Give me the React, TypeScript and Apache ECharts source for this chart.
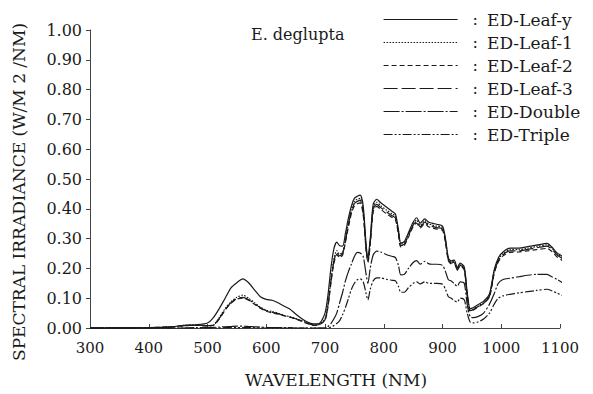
import React, { useEffect, useRef } from "react";
import * as echarts from "echarts";

const wavelengths = [
  300, 400, 440, 460, 480, 500, 510, 520, 530, 540,
  550, 560, 570, 580, 590, 600, 610, 620, 630, 640,
  650, 660, 670, 680, 690, 700, 705, 710, 715, 720,
  725, 730, 735, 740, 745, 750, 755, 760, 765, 770,
  773, 777, 782, 788, 795, 805, 815, 820, 825, 829,
  835, 842, 850, 856, 862, 870, 876, 882, 890, 900,
  905, 910, 915, 920, 925, 930, 937, 942, 947, 952,
  960, 970, 980, 988, 995, 1003, 1015, 1030, 1045, 1060,
  1078, 1086, 1095, 1105, 1117,
];

const leafY = [
  0, 0.001, 0.004, 0.009, 0.011, 0.017, 0.035, 0.065, 0.1, 0.135,
  0.152, 0.165, 0.152, 0.128, 0.105, 0.096, 0.093, 0.085, 0.074, 0.064,
  0.047, 0.032, 0.02, 0.014, 0.015, 0.05, 0.11, 0.2, 0.265, 0.288,
  0.276, 0.275, 0.32, 0.37, 0.41, 0.435, 0.442, 0.446, 0.41, 0.28,
  0.235, 0.3, 0.415, 0.432, 0.42, 0.405, 0.39, 0.382, 0.33, 0.285,
  0.29, 0.32, 0.355, 0.37, 0.352, 0.366, 0.356, 0.352, 0.348, 0.342,
  0.3, 0.235, 0.225, 0.228, 0.202, 0.218, 0.205, 0.12, 0.065, 0.068,
  0.078, 0.09, 0.115, 0.195, 0.235, 0.255, 0.268, 0.268, 0.273, 0.278,
  0.284, 0.272, 0.252, 0.238, 0.197,
];

const leaf1 = [
  0, 0.001, 0.004, 0.009, 0.01, 0.008, 0.01, 0.035, 0.065, 0.088,
  0.103, 0.11, 0.1, 0.085, 0.07, 0.06, 0.055, 0.05, 0.043, 0.038,
  0.032, 0.025, 0.017, 0.01, 0.012, 0.03, 0.08, 0.16, 0.23, 0.26,
  0.248, 0.255, 0.3, 0.355, 0.4, 0.425, 0.432, 0.435, 0.395, 0.27,
  0.228, 0.29, 0.405, 0.422, 0.41, 0.395, 0.382, 0.375, 0.325, 0.28,
  0.285, 0.315, 0.35, 0.362, 0.345, 0.36, 0.35, 0.346, 0.342, 0.337,
  0.295, 0.232, 0.22, 0.224, 0.198, 0.213, 0.2, 0.115, 0.06, 0.063,
  0.073, 0.085, 0.11, 0.19, 0.23, 0.25, 0.263, 0.263, 0.268, 0.273,
  0.279, 0.268, 0.248, 0.234, 0.193,
];

const leaf2 = [
  0, 0.001, 0.004, 0.008, 0.009, 0.007, 0.009, 0.03, 0.06, 0.083,
  0.097, 0.1, 0.093, 0.08, 0.066, 0.056, 0.051, 0.047, 0.041, 0.036,
  0.03, 0.023, 0.015, 0.009, 0.011, 0.026, 0.07, 0.15, 0.215, 0.247,
  0.236, 0.245, 0.29, 0.34, 0.385, 0.41, 0.417, 0.42, 0.38, 0.26,
  0.22, 0.28, 0.39, 0.408, 0.398, 0.383, 0.37, 0.363, 0.315, 0.272,
  0.277, 0.305, 0.34, 0.352, 0.336, 0.35, 0.34, 0.336, 0.332, 0.328,
  0.288, 0.226, 0.215, 0.218, 0.193, 0.208, 0.195, 0.11, 0.057, 0.06,
  0.07, 0.082, 0.105, 0.183, 0.222, 0.242, 0.254, 0.255, 0.259, 0.263,
  0.267, 0.257, 0.238, 0.225, 0.186,
];

const leaf3 = [
  0, 0.001, 0.004, 0.008, 0.01, 0.008, 0.01, 0.032, 0.062, 0.085,
  0.099, 0.103, 0.095, 0.082, 0.068, 0.058, 0.053, 0.048, 0.042, 0.037,
  0.031, 0.024, 0.016, 0.01, 0.012, 0.028, 0.075, 0.155, 0.222, 0.252,
  0.242, 0.25, 0.295, 0.348, 0.392, 0.418, 0.425, 0.428, 0.387, 0.265,
  0.224, 0.285, 0.398, 0.415, 0.404, 0.389, 0.376, 0.369, 0.32, 0.276,
  0.281, 0.31, 0.345, 0.357, 0.34, 0.355, 0.345, 0.341, 0.337, 0.333,
  0.292, 0.229, 0.218, 0.221, 0.196, 0.21, 0.198, 0.112, 0.058, 0.061,
  0.071, 0.083, 0.107, 0.187, 0.226, 0.246, 0.259, 0.259, 0.264, 0.269,
  0.275, 0.265, 0.245, 0.231, 0.19,
];

const doubleLayer = [
  0, 0, 0, 0, 0.001, 0.001, 0.002, 0.003, 0.004, 0.005,
  0.006, 0.006, 0.005, 0.004, 0.003, 0.002, 0.001, 0.001, 0.001, 0.001,
  0, 0, 0, 0, 0, 0, 0.005, 0.015, 0.03, 0.05,
  0.085, 0.12, 0.16, 0.19, 0.215, 0.24, 0.254, 0.252, 0.24, 0.18,
  0.15, 0.2, 0.245, 0.258, 0.255, 0.246, 0.24, 0.236, 0.21, 0.178,
  0.18, 0.2, 0.22, 0.226, 0.214, 0.224, 0.216, 0.214, 0.214, 0.21,
  0.19, 0.162, 0.158, 0.148, 0.14, 0.155, 0.15, 0.08, 0.038, 0.035,
  0.038, 0.05, 0.08, 0.115, 0.15, 0.163, 0.167, 0.172, 0.177, 0.18,
  0.18, 0.172, 0.163, 0.15, 0.12,
];

const tripleLayer = [
  0, 0, 0, 0, 0, 0, 0, 0, 0.001, 0.001,
  0.001, 0.001, 0.001, 0.001, 0, 0, 0, 0, 0, 0,
  0, 0, 0, 0, 0, 0, 0, 0.003, 0.008, 0.015,
  0.025, 0.045, 0.07, 0.1, 0.13, 0.15, 0.162, 0.165, 0.155, 0.115,
  0.094, 0.13, 0.158, 0.168, 0.168, 0.163, 0.16, 0.158, 0.14, 0.12,
  0.12, 0.135, 0.15, 0.155, 0.148, 0.155, 0.15, 0.15, 0.15, 0.147,
  0.13, 0.105, 0.1, 0.092, 0.087, 0.1, 0.095, 0.05, 0.02, 0.017,
  0.02, 0.03, 0.05, 0.08, 0.1, 0.108, 0.113, 0.118, 0.122, 0.126,
  0.13, 0.125, 0.117, 0.108, 0.087,
];

const seriesNames = ["ED-Leaf-y", "ED-Leaf-1", "ED-Leaf-2", "ED-Leaf-3", "ED-Double", "ED-Triple"];
const seriesValues = [leafY, leaf1, leaf2, leaf3, doubleLayer, tripleLayer];
const dashes: (string | number[])[] = [
  "solid",
  [1.5, 1.5],
  [5, 3],
  [14, 4],
  [16, 2, 2, 2],
  [9, 2, 2, 2, 2, 2],
];

const FONT = "'DejaVu Serif', 'Liberation Serif', serif";
const INK = "#1a1a1a";

export default function App() {
  const ref = useRef<HTMLDivElement>(null);
  useEffect(() => {
    if (!ref.current) return;
    const chart = echarts.init(ref.current, undefined, { renderer: "svg" });
    const series = seriesNames.map((name, k) => ({
      name,
      type: "line",
      symbol: "none",
      smooth: 0.25,
      clip: false,
      lineStyle: { color: INK, width: 1.2, type: dashes[k] },
      itemStyle: { color: INK },
      data: wavelengths.map((w, i) => [w, seriesValues[k][i]]),
      z: 10 - k,
    }));
    chart.setOption({
      animation: false,
      backgroundColor: "#fff",
      grid: { left: 90, right: 33, top: 30, bottom: 66, containLabel: false },
      xAxis: {
        type: "value",
        min: 300,
        max: 1100,
        interval: 100,
        axisLine: { show: true, lineStyle: { color: "#444", width: 1 } },
        axisTick: { show: true, inside: true, length: 4, lineStyle: { color: "#444" } },
        axisLabel: {
          color: INK,
          fontFamily: FONT,
          fontSize: 15,
          margin: 12,
          formatter: (v: number) => String(v),
        },
        splitLine: { show: false },
      },
      yAxis: {
        type: "value",
        min: 0,
        max: 1,
        interval: 0.1,
        axisLine: { show: true, lineStyle: { color: "#444", width: 1 } },
        axisTick: { show: true, inside: false, length: 4, lineStyle: { color: "#444" } },
        axisLabel: {
          color: INK,
          fontFamily: FONT,
          fontSize: 16,
          margin: 8,
          formatter: (v: number) => v.toFixed(2),
        },
        splitLine: { show: false },
      },
      legend: {
        orient: "vertical",
        left: 378,
        top: 6,
        itemWidth: 74,
        itemHeight: 14,
        itemGap: 6,
        itemStyle: { opacity: 0, borderWidth: 0 },
        lineStyle: { width: 1.2 },
        data: seriesNames,
        formatter: (name: string) => `{c|:}{n|${name}}`,
        textStyle: {
          color: INK,
          fontFamily: FONT,
          fontSize: 16,
          rich: {
            c: { fontFamily: FONT, fontSize: 16, color: INK, padding: [0, 9, 0, 10] },
            n: { fontFamily: FONT, fontSize: 17, color: INK },
          },
        },
      },
      graphic: [
        {
          type: "text",
          left: 251,
          top: 26,
          style: { text: "E. deglupta", font: `16px ${FONT}`, fill: INK },
        },
        {
          type: "text",
          x: 19,
          y: 192,
          rotation: Math.PI / 2,
          style: {
            text: "SPECTRAL IRRADIANCE (W/M 2 /NM)",
            font: `17px ${FONT}`,
            fill: INK,
            align: "center",
            verticalAlign: "middle",
          },
        },
        {
          type: "text",
          x: 336,
          y: 380,
          style: {
            text: "WAVELENGTH (NM)",
            font: `17px ${FONT}`,
            fill: INK,
            align: "center",
            verticalAlign: "middle",
          },
        },
      ],
      series,
    });
    return () => chart.dispose();
  }, []);
  return (
    <div
      ref={ref}
      style={{ position: "fixed", left: 0, top: 0, width: 593, height: 394, background: "#fff" }}
    />
  );
}
